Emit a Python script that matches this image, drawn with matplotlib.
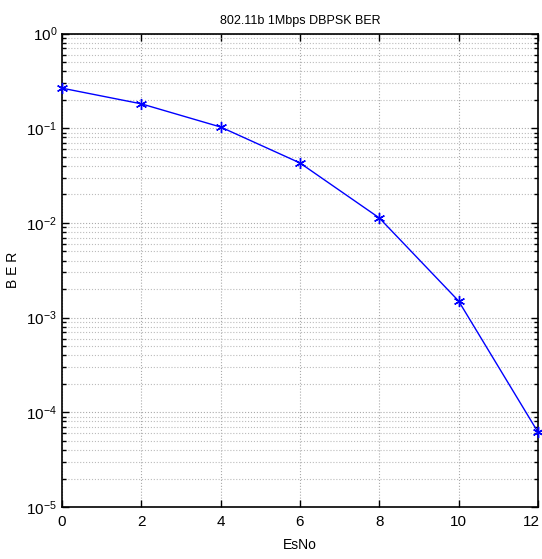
import numpy as np
import matplotlib.pyplot as plt
import matplotlib.transforms as mtransforms
from matplotlib.ticker import LogLocator, NullFormatter

plt.rcParams['font.family'] = ['Liberation Sans', 'DejaVu Sans']

# data
esno = [0, 2, 4, 6, 8, 10, 12]
ber = [0.265, 0.181, 0.103, 0.043, 0.0113, 0.0015, 6.2e-5]

fig = plt.figure(figsize=(5.42, 5.59), dpi=100)
ax = fig.add_axes([0.1144, 0.093, 0.878, 0.847])

ax.semilogy(esno, ber, color='b', linestyle='-', linewidth=1,
            marker=(6, 2, 0), markersize=8, markeredgewidth=1,
            clip_on=False, zorder=3)

ax.set_xlim(0, 12)
ax.set_ylim(1e-5, 1)
ax.set_xticks(range(0, 13, 2))
ax.yaxis.set_major_locator(LogLocator(base=10, numticks=10))
ax.yaxis.set_minor_locator(LogLocator(base=10, subs=np.arange(2, 10), numticks=20))
ax.yaxis.set_minor_formatter(NullFormatter())

ax.grid(True, which='major', linestyle=':', color='#aaaaaa', linewidth=0.8)
ax.grid(True, which='minor', axis='y', linestyle=':', color='#bbbbbb', linewidth=0.8)

ax.tick_params(which='both', direction='in', top=True, right=True, labelsize=11)
ax.tick_params(which='major', length=5, width=1)
ax.tick_params(which='minor', length=3, width=1)
ax.tick_params(axis='x', pad=6)
for s in ax.spines.values():
    s.set_linewidth(1.2)

ax.set_title('802.11b 1Mbps DBPSK BER', fontsize=9, pad=7)
ax.set_xlabel('EsNo', fontsize=10, labelpad=6)
ax.set_ylabel('B E R', fontsize=10)
ax.yaxis.set_label_coords(-0.088, 0.5)

# keep the "12" label inside the figure
fig.canvas.draw()
last = ax.get_xticklabels()[-1]
last.set_transform(last.get_transform() +
                   mtransforms.ScaledTranslation(-5 / 72, 0, fig.dpi_scale_trans))

fig.savefig('out.png', dpi=100)
